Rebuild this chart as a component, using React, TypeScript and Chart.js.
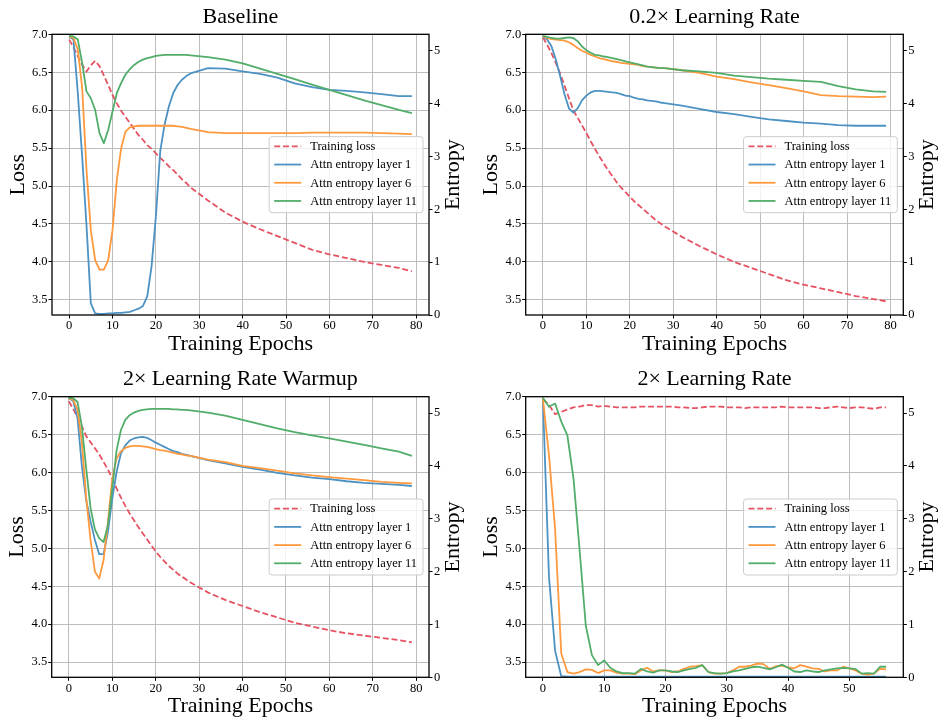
import { useEffect, useRef } from "react";
import { Chart, registerables } from "chart.js";

Chart.register(...registerables);

// ---------------- DATA ----------------
const epochsLong = [
  0, 1, 2, 3, 4, 5, 6, 7, 8, 9, 10, 11, 12, 13, 14, 15, 16, 17, 18, 19, 20,
  21, 22, 23, 24, 25, 26, 27, 28, 32, 36, 40, 44, 48, 52, 56, 60, 64, 68, 72, 76, 79,
];
const epochsShort = [
  0, 1, 2, 3, 4, 5, 6, 7, 8, 9, 10, 11, 12, 13, 14, 15, 16, 17, 18, 19, 20, 21, 22, 23, 24, 25, 26, 27,
  28, 29, 30, 31, 32, 33, 34, 35, 36, 37, 38, 39, 40, 41, 42, 43, 44, 45, 46, 47, 48, 49, 50, 51, 52, 53, 54, 55, 56,
];

const xTicksLong = [0, 10, 20, 30, 40, 50, 60, 70, 80];
const xTicksShort = [0, 10, 20, 30, 40, 50];
const lossTicks = [3.5, 4.0, 4.5, 5.0, 5.5, 6.0, 6.5, 7.0];
const entropyTicks = [0, 1, 2, 3, 4, 5];

const seriesLabels = ["Training loss", "Attn entropy layer 1", "Attn entropy layer 6", "Attn entropy layer 11"];

// Baseline
const baselineLoss = [
  6.93, 6.83, 6.71, 6.6, 6.51, 6.59, 6.65, 6.58, 6.46, 6.33,
  6.2, 6.09, 5.99, 5.91, 5.83, 5.75, 5.67, 5.61, 5.54, 5.49,
  5.43, 5.37, 5.32, 5.26, 5.21, 5.15, 5.09, 5.04, 4.98,
  4.81, 4.65, 4.53, 4.43, 4.34, 4.25, 4.16, 4.1, 4.05, 4.0, 3.96, 3.92, 3.875,
];
const baselineL1 = [
  5.27, 5.21, 4.2, 3.0, 1.7, 0.22, 0.03, 0.02, 0.02, 0.03,
  0.03, 0.04, 0.04, 0.05, 0.06, 0.09, 0.12, 0.17, 0.35, 0.92,
  1.87, 3.1, 3.6, 3.95, 4.2, 4.35, 4.45, 4.52, 4.57,
  4.67, 4.66, 4.61, 4.56, 4.49, 4.38, 4.31, 4.26, 4.24, 4.21, 4.18, 4.14, 4.14,
];
const baselineL6 = [
  5.27, 5.24, 5.02, 4.3, 2.75, 1.6, 1.04, 0.86, 0.86, 1.04,
  1.61, 2.56, 3.16, 3.47, 3.55, 3.57, 3.58, 3.58, 3.58, 3.58,
  3.58, 3.58, 3.58, 3.58, 3.58, 3.57, 3.56, 3.54, 3.52,
  3.46, 3.44, 3.44, 3.44, 3.44, 3.44, 3.45, 3.45, 3.45, 3.45, 3.44, 3.43, 3.42,
];
const baselineL11 = [
  5.28, 5.27, 5.21, 4.77, 4.23, 4.1, 3.88, 3.44, 3.25, 3.5,
  3.85, 4.2, 4.39, 4.55, 4.65, 4.73, 4.79, 4.83, 4.86, 4.88,
  4.9, 4.91, 4.92, 4.92, 4.92, 4.92, 4.92, 4.92, 4.91,
  4.88, 4.83, 4.76, 4.66, 4.56, 4.46, 4.36, 4.26, 4.16, 4.06, 3.97, 3.88, 3.82,
];

// 0.2x learning rate
const lr02Loss = [
  6.96, 6.86, 6.75, 6.62, 6.48, 6.32, 6.16, 6.0, 5.9, 5.8,
  5.7, 5.59, 5.49, 5.39, 5.3, 5.21, 5.13, 5.05, 4.98, 4.92,
  4.86, 4.8, 4.75, 4.7, 4.65, 4.6, 4.55, 4.51, 4.47,
  4.33, 4.21, 4.1, 4.0, 3.92, 3.84, 3.76, 3.7, 3.65, 3.6, 3.55, 3.51, 3.48,
];
const lr02L1 = [
  5.27, 5.21, 5.08, 4.83, 4.51, 4.17, 3.91, 3.83, 3.91, 4.06,
  4.15, 4.21, 4.24, 4.24, 4.23, 4.22, 4.21, 4.2, 4.18, 4.15,
  4.14, 4.11, 4.09, 4.08, 4.06, 4.05, 4.04, 4.02, 4.01,
  3.96, 3.9, 3.84, 3.8, 3.75, 3.7, 3.67, 3.64, 3.62, 3.59, 3.58, 3.58, 3.58,
];
const lr02L6 = [
  5.27, 5.24, 5.22, 5.21, 5.2, 5.19, 5.16, 5.11, 5.05, 5.0,
  4.96, 4.92, 4.89, 4.86, 4.84, 4.82, 4.8, 4.79, 4.77, 4.76,
  4.75, 4.74, 4.73, 4.71, 4.7, 4.69, 4.68, 4.67, 4.67,
  4.63, 4.58, 4.51, 4.46, 4.4, 4.35, 4.29, 4.23, 4.16, 4.14, 4.13, 4.12, 4.13,
];
const lr02L11 = [
  5.28, 5.26, 5.24, 5.23, 5.23, 5.24, 5.25, 5.24, 5.18, 5.08,
  5.01, 4.96, 4.92, 4.91, 4.89, 4.88, 4.86, 4.84, 4.82, 4.8,
  4.78, 4.76, 4.74, 4.72, 4.7, 4.69, 4.68, 4.67, 4.67,
  4.63, 4.61, 4.58, 4.53, 4.5, 4.47, 4.45, 4.43, 4.41, 4.33, 4.27, 4.23, 4.22,
];

// 2x learning rate warmup
const warmupLoss = [
  6.94, 6.84, 6.73, 6.61, 6.48, 6.4, 6.32, 6.24, 6.14, 6.04,
  5.92, 5.79, 5.67, 5.56, 5.46, 5.37, 5.28, 5.2, 5.12, 5.04,
  4.96, 4.89, 4.83, 4.77, 4.72, 4.67, 4.63, 4.59, 4.55,
  4.42, 4.32, 4.24, 4.16, 4.09, 4.02, 3.97, 3.92, 3.88, 3.85, 3.82, 3.79, 3.76,
];
const warmupL1 = [
  5.28, 5.23, 4.9, 4.0, 3.35, 2.95, 2.6, 2.33, 2.33, 2.75,
  3.38, 3.89, 4.24, 4.39, 4.48, 4.52, 4.54, 4.55, 4.53, 4.49,
  4.44, 4.4, 4.36, 4.32, 4.28, 4.26, 4.23, 4.21, 4.19,
  4.11, 4.05, 3.98, 3.93, 3.87, 3.82, 3.78, 3.75, 3.71, 3.68, 3.66, 3.64, 3.62,
];
const warmupL6 = [
  5.28, 5.25, 5.06, 4.45, 3.4, 2.6, 2.0, 1.87, 2.22, 2.94,
  3.76, 4.14, 4.28, 4.34, 4.37, 4.38, 4.38, 4.37, 4.36, 4.34,
  4.32, 4.3, 4.29, 4.27, 4.25, 4.23, 4.22, 4.2, 4.19,
  4.12, 4.07, 4.0, 3.96, 3.91, 3.86, 3.82, 3.79, 3.76, 3.73, 3.7, 3.68, 3.67,
];
const warmupL11 = [
  5.29, 5.28, 5.21, 4.75, 3.95, 3.2, 2.8, 2.63, 2.56, 2.88,
  3.57, 4.3, 4.68, 4.87, 4.96, 5.01, 5.04, 5.06, 5.07, 5.08,
  5.08, 5.08, 5.08, 5.08, 5.07, 5.07, 5.06, 5.06, 5.05,
  5.01, 4.95, 4.87, 4.79, 4.71, 4.64, 4.58, 4.52, 4.46, 4.4, 4.33, 4.27, 4.19,
];

// 2x learning rate
const lr2Loss = [
  6.97, 6.89, 6.77, 6.8, 6.83, 6.86, 6.87, 6.89, 6.89, 6.87, 6.88, 6.87, 6.86, 6.86,
  6.86, 6.86, 6.87, 6.87, 6.87, 6.87, 6.87, 6.87, 6.86, 6.86, 6.85, 6.85, 6.86, 6.87,
  6.87, 6.87, 6.86, 6.86, 6.86, 6.85, 6.86, 6.86, 6.86, 6.86, 6.86, 6.87, 6.86, 6.86,
  6.86, 6.86, 6.86, 6.85, 6.85, 6.86, 6.87, 6.86, 6.85, 6.86, 6.86, 6.85, 6.84, 6.86, 6.86,
];
const lr2L1 = [
  5.28, 1.9, 0.5, 0.02, 0.01, 0.01, 0.01, 0.01, 0.01, 0.01, 0.01, 0.01, 0.01, 0.01,
  0.01, 0.01, 0.01, 0.01, 0.01, 0.01, 0.01, 0.01, 0.01, 0.01, 0.01, 0.01, 0.01, 0.01,
  0.01, 0.01, 0.01, 0.01, 0.01, 0.01, 0.01, 0.01, 0.01, 0.01, 0.01, 0.01, 0.01, 0.01,
  0.01, 0.01, 0.01, 0.01, 0.01, 0.01, 0.01, 0.01, 0.01, 0.01, 0.01, 0.01, 0.01, 0.01, 0.01,
];
const lr2L6 = [
  5.28, 4.2, 2.8, 0.45, 0.1, 0.07, 0.1, 0.15, 0.14, 0.08, 0.13, 0.13, 0.09, 0.07,
  0.07, 0.06, 0.13, 0.18, 0.11, 0.13, 0.13, 0.1, 0.11, 0.16, 0.2, 0.21, 0.23, 0.1,
  0.07, 0.07, 0.08, 0.13, 0.2, 0.2, 0.22, 0.26, 0.25, 0.16, 0.21, 0.22, 0.19, 0.17,
  0.23, 0.2, 0.17, 0.16, 0.11, 0.13, 0.13, 0.2, 0.17, 0.13, 0.07, 0.05, 0.07, 0.16, 0.15,
];
const lr2L11 = [
  5.29, 5.12, 5.18, 4.84, 4.58, 3.76, 2.4, 0.98, 0.42, 0.23, 0.32, 0.18, 0.11, 0.08,
  0.08, 0.07, 0.16, 0.11, 0.09, 0.13, 0.13, 0.11, 0.1, 0.13, 0.16, 0.18, 0.23, 0.1,
  0.08, 0.07, 0.08, 0.11, 0.13, 0.16, 0.19, 0.2, 0.18, 0.15, 0.19, 0.24, 0.18, 0.11,
  0.1, 0.13, 0.11, 0.1, 0.13, 0.15, 0.17, 0.18, 0.17, 0.16, 0.07, 0.08, 0.07, 0.2, 0.2,
];

// ---------------- STYLE / LAYOUT ----------------
const FONT = '"Liberation Serif", "Times New Roman", serif';
const RED = "#e55363";
const BLUE = "#4c92c3";
const ORANGE = "#ff993e";
const GREEN = "#52ad6a";
const GRID = "#bdbdbd";

type PanelCfg = {
  title: string;
  epochs: number[];
  series: number[][];
  xTicks: number[];
  xMin: number;
  xMax: number;
  x: number;
  y: number;
  w: number;
  h: number;
  area: { l: number; r: number; t: number; b: number };
};

const panels: PanelCfg[] = [
  {
    title: "Baseline",
    epochs: epochsLong,
    series: [baselineLoss, baselineL1, baselineL6, baselineL11],
    xTicks: xTicksLong, xMin: -3.95, xMax: 82.95,
    x: 0, y: 0, w: 470, h: 358,
    area: { l: 52, r: 429, t: 34.3, b: 315 },
  },
  {
    title: "0.2\u00d7 Learning Rate",
    epochs: epochsLong,
    series: [lr02Loss, lr02L1, lr02L6, lr02L11],
    xTicks: xTicksLong, xMin: -3.95, xMax: 82.95,
    x: 470, y: 0, w: 470, h: 358,
    area: { l: 55.7, r: 433.3, t: 34.3, b: 315 },
  },
  {
    title: "2\u00d7 Learning Rate Warmup",
    epochs: epochsLong,
    series: [warmupLoss, warmupL1, warmupL6, warmupL11],
    xTicks: xTicksLong, xMin: -3.95, xMax: 82.95,
    x: 0, y: 358, w: 470, h: 359,
    area: { l: 51.7, r: 429, t: 38.7, b: 319.3 },
  },
  {
    title: "2\u00d7 Learning Rate",
    epochs: epochsShort,
    series: [lr2Loss, lr2L1, lr2L6, lr2L11],
    xTicks: xTicksShort, xMin: -2.8, xMax: 58.8,
    x: 470, y: 358, w: 470, h: 359,
    area: { l: 55.7, r: 433.3, t: 38.7, b: 319.3 },
  },
];

const colors = [RED, BLUE, ORANGE, GREEN];

function makeConfig(cfg: PanelCfg): any {
  const a = cfg.area;
  const datasets = cfg.series.map((vals, si) => ({
    label: seriesLabels[si],
    data: cfg.epochs.map((e, i) => ({ x: e, y: vals[i] })),
    yAxisID: si === 0 ? "y" : "y1",
    borderColor: colors[si],
    backgroundColor: colors[si],
    borderWidth: 1.8,
    borderDash: si === 0 ? [6, 2.8] : [],
    pointRadius: 0,
    tension: 0,
    fill: false,
    order: 3 - si,
    borderJoinStyle: "round",
  }));

  const tickFont = { family: FONT, size: 12.5 };

  const decor = {
    id: "decor",
    afterDatasetsDraw(chart: any) {
      const { ctx, chartArea } = chart;
      const c = chartArea;
      ctx.save();
      // spines
      ctx.strokeStyle = "#000";
      ctx.lineWidth = 1.3;
      ctx.strokeRect(c.left, c.top, c.right - c.left, c.bottom - c.top);
      // legend
      ctx.font = `12.5px ${FONT}`;
      const labels = chart.data.datasets.map((d: any) => d.label);
      const textW = Math.max(...labels.map((s: string) => ctx.measureText(s).width));
      const boxW = 5 + 27 + 9 + textW + 6;
      const boxH = 76;
      const bx = c.right - 6 - boxW;
      const by = (c.top + c.bottom) / 2 - boxH / 2;
      ctx.beginPath();
      (ctx as any).roundRect(bx, by, boxW, boxH, 3);
      ctx.fillStyle = "rgba(255,255,255,0.8)";
      ctx.fill();
      ctx.strokeStyle = "#cccccc";
      ctx.lineWidth = 1;
      ctx.stroke();
      chart.data.datasets.forEach((d: any, i: number) => {
        const ry = by + 9.7 + i * 18.2;
        ctx.beginPath();
        ctx.setLineDash(d.borderDash || []);
        ctx.strokeStyle = d.borderColor;
        ctx.lineWidth = 1.8;
        ctx.moveTo(bx + 5, ry);
        ctx.lineTo(bx + 32, ry);
        ctx.stroke();
        ctx.setLineDash([]);
        ctx.fillStyle = "#000";
        ctx.textAlign = "left";
        ctx.textBaseline = "middle";
        ctx.fillText(d.label, bx + 41, ry + 0.5);
      });
      ctx.restore();
    },
    afterDraw(chart: any) {
      const { ctx, chartArea: c } = chart;
      ctx.save();
      ctx.fillStyle = "#000";
      ctx.font = `22px ${FONT}`;
      ctx.textAlign = "center";
      ctx.textBaseline = "alphabetic";
      const cx = (c.left + c.right) / 2;
      const cy = (c.top + c.bottom) / 2;
      ctx.fillText(cfg.title, cx, c.top - 11.6);
      ctx.fillText("Training Epochs", cx, c.bottom + 35);
      ctx.save();
      ctx.translate(c.left - 28.5, cy);
      ctx.rotate(-Math.PI / 2);
      ctx.fillText("Loss", 0, 0);
      ctx.restore();
      ctx.save();
      ctx.translate(c.right + 30, cy);
      ctx.rotate(-Math.PI / 2);
      ctx.fillText("Entropy", 0, 0);
      ctx.restore();
      ctx.restore();
    },
  };

  return {
    type: "line",
    data: { datasets },
    options: {
      animation: false,
      responsive: false,
      maintainAspectRatio: false,
      devicePixelRatio: 1,
      layout: { padding: { top: a.t, left: 0, right: 0, bottom: 0 } },
      plugins: { legend: { display: false }, tooltip: { enabled: false }, title: { display: false } },
      scales: {
        x: {
          type: "linear",
          min: cfg.xMin,
          max: cfg.xMax,
          afterBuildTicks: (s: any) => {
            s.ticks = cfg.xTicks.map((v) => ({ value: v }));
          },
          afterFit: (s: any) => {
            s.height = cfg.h - a.b;
          },
          ticks: {
            font: tickFont, color: "#000", padding: 0, maxRotation: 0, autoSkip: false,
            callback: (v: any) => String(v),
          },
          grid: { color: GRID, lineWidth: 1, tickLength: 3.5, tickColor: "#000", tickWidth: 1 },
          border: { display: false },
        },
        y: {
          type: "linear",
          position: "left",
          min: 3.3,
          max: 7.0,
          afterBuildTicks: (s: any) => {
            s.ticks = lossTicks.map((v) => ({ value: v }));
          },
          afterFit: (s: any) => {
            s.width = a.l;
          },
          ticks: { font: tickFont, color: "#000", padding: 1, callback: (v: any) => Number(v).toFixed(1) },
          grid: { color: GRID, lineWidth: 1, tickLength: 3.5, tickColor: "#000", tickWidth: 1 },
          border: { display: false },
        },
        y1: {
          type: "linear",
          position: "right",
          min: 0,
          max: 5.31,
          afterBuildTicks: (s: any) => {
            s.ticks = entropyTicks.map((v) => ({ value: v }));
          },
          afterFit: (s: any) => {
            s.width = cfg.w - a.r;
          },
          ticks: { font: tickFont, color: "#000", padding: 1.5, callback: (v: any) => String(v) },
          grid: { drawOnChartArea: false, tickLength: 3.5, tickColor: "#000", tickWidth: 1 },
          border: { display: false },
        },
      },
    },
    plugins: [decor],
  };
}

function Panel({ cfg }: { cfg: PanelCfg }) {
  const ref = useRef<HTMLCanvasElement | null>(null);
  useEffect(() => {
    if (!ref.current) return;
    const chart = new Chart(ref.current, makeConfig(cfg));
    return () => chart.destroy();
  }, [cfg]);
  return (
    <canvas
      ref={ref}
      width={cfg.w}
      height={cfg.h}
      style={{ position: "absolute", left: cfg.x, top: cfg.y, width: cfg.w, height: cfg.h }}
    />
  );
}

export default function App() {
  return (
    <div style={{ position: "absolute", left: 0, top: 0, width: 940, height: 717, background: "#fff" }}>
      {panels.map((p) => (
        <Panel key={p.title} cfg={p} />
      ))}
    </div>
  );
}
